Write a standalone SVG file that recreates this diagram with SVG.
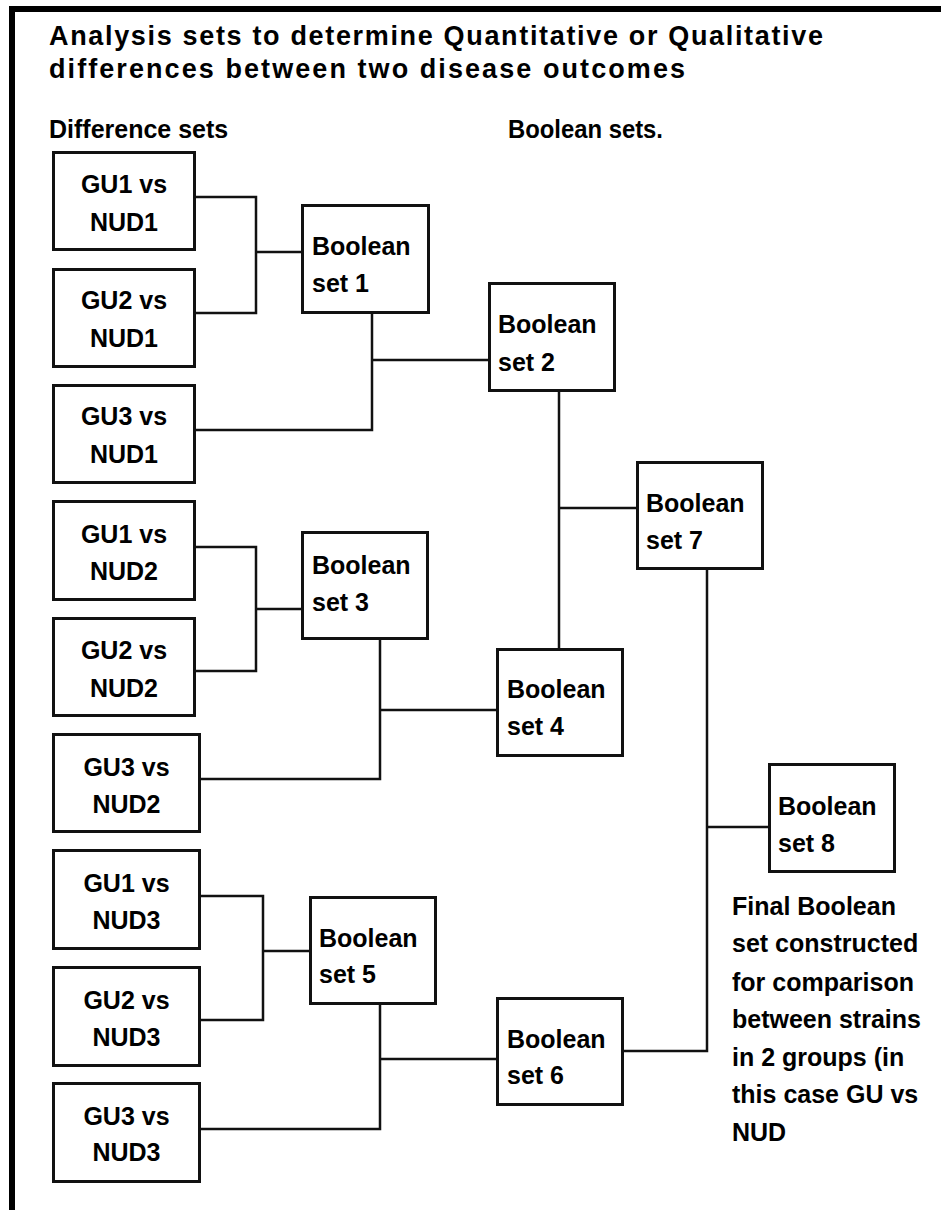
<svg xmlns="http://www.w3.org/2000/svg" width="941" height="1210" viewBox="0 0 941 1210">
  <style>
    .box { fill: #fff; stroke: #111; stroke-width: 3; }
    .wire { fill: none; stroke: #111; stroke-width: 2.5; stroke-linejoin: miter; stroke-linecap: square; }
    text { font-family: "Liberation Sans", Arial, sans-serif; font-weight: bold; fill: #000; }
    .lbl { font-size: 25px; }
    .ctr { text-anchor: middle; }
    .title { font-size: 27px; }
  </style>

  <rect x="0" y="0" width="941" height="1210" fill="#fff"/>
  <!-- frame edges -->
  <rect x="9" y="6" width="932" height="6" fill="#000"/>
  <rect x="9" y="6" width="6" height="1204" fill="#000"/>

  <!-- headings -->
  <g id="heading">
    <text class="title" x="49" y="45" textLength="774" lengthAdjust="spacing">Analysis sets to determine Quantitative or Qualitative</text>
    <text class="title" x="49" y="78" textLength="636" lengthAdjust="spacing">differences between two disease outcomes</text>
    <text class="lbl" x="49" y="138">Difference sets</text>
    <text class="lbl" x="508" y="138" textLength="155" lengthAdjust="spacingAndGlyphs">Boolean sets.</text>
  </g>

  <!-- connectors -->
  <g id="connectors">
    <path class="wire" d="M196,197 H256 V313 H196 M256,252 H301"/>
    <path class="wire" d="M372,314 V430 H196 M372,360 H488"/>
    <path class="wire" d="M196,547 H256 V671 H196 M256,609 H301"/>
    <path class="wire" d="M380,640 V779 H201 M380,710 H496"/>
    <path class="wire" d="M559,392 V648 M559,508 H636"/>
    <path class="wire" d="M201,896 H263 V1020 H201 M263,951 H309"/>
    <path class="wire" d="M380,1005 V1129 H201 M380,1059 H496"/>
    <path class="wire" d="M707,570 V1051 H624 M707,827 H768"/>
  </g>

  <!-- difference sets -->
  <g id="gu1-nud1">
    <rect class="box" x="53.5" y="152.5" width="141" height="97"/>
    <text class="lbl ctr" x="124" y="193">GU1 vs</text>
    <text class="lbl ctr" x="124" y="231">NUD1</text>
  </g>
  <g id="gu2-nud1">
    <rect class="box" x="53.5" y="269.5" width="141" height="97"/>
    <text class="lbl ctr" x="124" y="309">GU2 vs</text>
    <text class="lbl ctr" x="124" y="347">NUD1</text>
  </g>
  <g id="gu3-nud1">
    <rect class="box" x="53.5" y="385.5" width="141" height="97"/>
    <text class="lbl ctr" x="124" y="425">GU3 vs</text>
    <text class="lbl ctr" x="124" y="463">NUD1</text>
  </g>
  <g id="gu1-nud2">
    <rect class="box" x="53.5" y="501.5" width="141" height="98"/>
    <text class="lbl ctr" x="124" y="543">GU1 vs</text>
    <text class="lbl ctr" x="124" y="580">NUD2</text>
  </g>
  <g id="gu2-nud2">
    <rect class="box" x="53.5" y="618.5" width="141" height="97"/>
    <text class="lbl ctr" x="124" y="659">GU2 vs</text>
    <text class="lbl ctr" x="124" y="697">NUD2</text>
  </g>
  <g id="gu3-nud2">
    <rect class="box" x="53.5" y="734.5" width="146" height="97"/>
    <text class="lbl ctr" x="126.5" y="776">GU3 vs</text>
    <text class="lbl ctr" x="126.5" y="813">NUD2</text>
  </g>
  <g id="gu1-nud3">
    <rect class="box" x="53.5" y="850.5" width="146" height="98"/>
    <text class="lbl ctr" x="126.5" y="892">GU1 vs</text>
    <text class="lbl ctr" x="126.5" y="929">NUD3</text>
  </g>
  <g id="gu2-nud3">
    <rect class="box" x="53.5" y="967.5" width="146" height="98"/>
    <text class="lbl ctr" x="126.5" y="1009">GU2 vs</text>
    <text class="lbl ctr" x="126.5" y="1046">NUD3</text>
  </g>
  <g id="gu3-nud3">
    <rect class="box" x="53.5" y="1083.5" width="146" height="98"/>
    <text class="lbl ctr" x="126.5" y="1125">GU3 vs</text>
    <text class="lbl ctr" x="126.5" y="1161">NUD3</text>
  </g>

  <!-- boolean sets -->
  <g id="boolean-1">
    <rect class="box" x="302.5" y="205.5" width="126" height="107"/>
    <text class="lbl" x="312" y="255">Boolean</text>
    <text class="lbl" x="312" y="292">set 1</text>
  </g>
  <g id="boolean-2">
    <rect class="box" x="489.5" y="283.5" width="125" height="107"/>
    <text class="lbl" x="498" y="333">Boolean</text>
    <text class="lbl" x="498" y="371">set 2</text>
  </g>
  <g id="boolean-3">
    <rect class="box" x="302.5" y="532.5" width="125" height="106"/>
    <text class="lbl" x="312" y="574">Boolean</text>
    <text class="lbl" x="312" y="611">set 3</text>
  </g>
  <g id="boolean-4">
    <rect class="box" x="497.5" y="649.5" width="125" height="106"/>
    <text class="lbl" x="507" y="698">Boolean</text>
    <text class="lbl" x="507" y="735">set 4</text>
  </g>
  <g id="boolean-5">
    <rect class="box" x="310.5" y="897.5" width="125" height="106"/>
    <text class="lbl" x="319" y="947">Boolean</text>
    <text class="lbl" x="319" y="983">set 5</text>
  </g>
  <g id="boolean-6">
    <rect class="box" x="497.5" y="998.5" width="125" height="106"/>
    <text class="lbl" x="507" y="1048">Boolean</text>
    <text class="lbl" x="507" y="1084">set 6</text>
  </g>
  <g id="boolean-7">
    <rect class="box" x="637.5" y="462.5" width="125" height="106"/>
    <text class="lbl" x="646" y="512">Boolean</text>
    <text class="lbl" x="646" y="549">set 7</text>
  </g>
  <g id="boolean-8">
    <rect class="box" x="769.5" y="764.5" width="125" height="107"/>
    <text class="lbl" x="778" y="815">Boolean</text>
    <text class="lbl" x="778" y="852">set 8</text>
  </g>

  <!-- note under the final set -->
  <g id="final-note">
    <text class="lbl" x="732" y="915">Final Boolean</text>
    <text class="lbl" x="732" y="952">set constructed</text>
    <text class="lbl" x="732" y="991">for comparison</text>
    <text class="lbl" x="732" y="1028">between strains</text>
    <text class="lbl" x="732" y="1066">in 2 groups (in</text>
    <text class="lbl" x="732" y="1103">this case GU vs</text>
    <text class="lbl" x="732" y="1141">NUD</text>
  </g>
</svg>
